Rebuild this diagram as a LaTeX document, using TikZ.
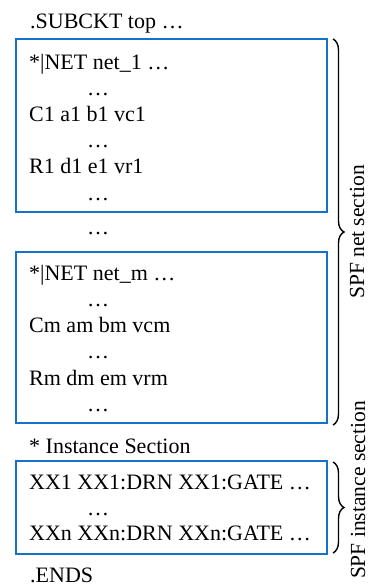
\documentclass[tikz,border=0pt]{standalone}
\usepackage{fontspec}
\setmainfont{Liberation Serif}
\usetikzlibrary{decorations.pathreplacing}
\definecolor{boxblue}{RGB}{20,115,200}
\tikzset{
  txt/.style={anchor=base west, inner sep=0pt, font=\fontsize{22}{24}\selectfont},
  codeline/.style={txt, text depth=1pt},
  dotsline/.style={txt, text height=3pt, text depth=0pt},
  lbl/.style={anchor=center, inner sep=0pt, rotate=90, font=\fontsize{21.5}{24}\selectfont},
  codebox/.style={draw=boxblue, line width=1.5pt},
  bracestyle/.style={draw=black, line width=1.4pt, decorate, decoration={brace, amplitude=11pt}}
}
\begin{document}
\begin{tikzpicture}[x=1pt,y=-1pt]
\useasboundingbox (0,0) rectangle (369,586);
% boxes
\draw[codebox] (16,39) rectangle (327,212);
\draw[codebox] (16,252) rectangle (327,423);
\draw[codebox] (16,461) rectangle (327,554);
% text
\node[txt] (sub) at (30,29) {.SUBCKT top …};
\node[codeline] (n1) at (29,70) {*|NET net\_1 …};
\node[dotsline] (d1) at (87,95) {…};
\node[codeline] (c1) at (29,121) {C1 a1 b1 vc1};
\node[dotsline] (d2) at (87,147) {…};
\node[codeline] (r1) at (29,173) {R1 d1 e1 vr1};
\node[dotsline] (d3) at (87,200) {…};
\node[dotsline] (dmid) at (87,234) {…};
\node[codeline] (nm) at (29,280) {*|NET net\_m …};
\node[dotsline] (d4) at (87,306) {…};
\node[codeline] (cm) at (29,332) {Cm am bm vcm};
\node[dotsline] (d5) at (87,358) {…};
\node[codeline] (rm) at (29,385) {Rm dm em vrm};
\node[dotsline] (d6) at (87,411) {…};
\node[txt] (inst) at (29,453) {* Instance Section};
\node[codeline] (x1) at (29,489) {XX1 XX1:DRN XX1:GATE …};
\node[dotsline] (d7) at (87,515) {…};
\node[codeline] (xn) at (29,540) {XXn XXn:DRN XXn:GATE …};
\node[txt] (ends) at (30,582) {.ENDS};
% braces
\coordinate (b1t) at (333,39);
\coordinate (b1b) at (333,425);
\coordinate (b2t) at (333,462);
\coordinate (b2b) at (333,553);
\draw[bracestyle] (b1t) -- (b1b);
\draw[bracestyle] (b2t) -- (b2b);
% labels
\node[lbl] (l1) at (357,232) {SPF net section};
\node[lbl] (l2) at (358,490) {SPF instance section};
\end{tikzpicture}
\end{document}
